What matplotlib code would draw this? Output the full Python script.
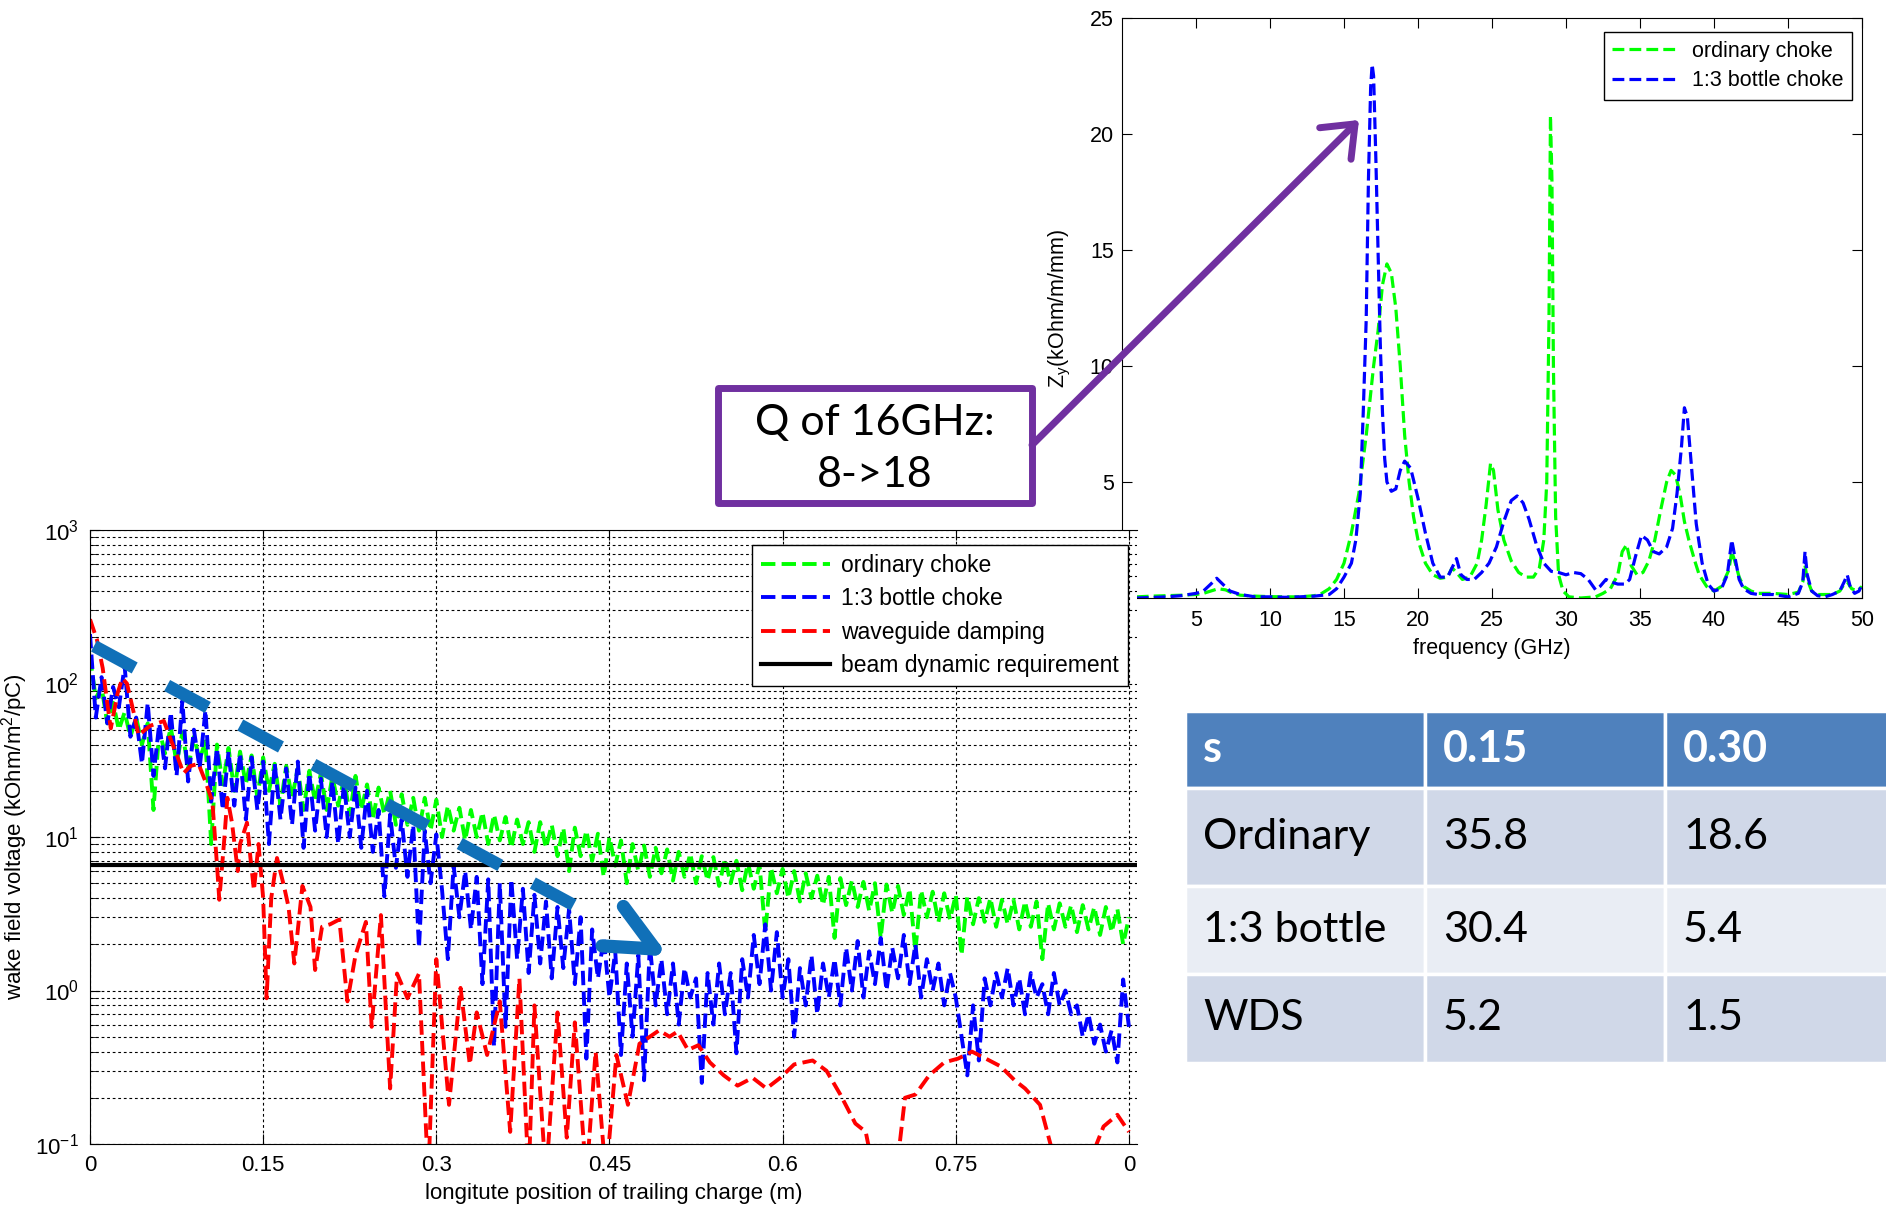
import numpy as np
import matplotlib
matplotlib.use('Agg')
import matplotlib.pyplot as plt
from matplotlib.lines import Line2D
from matplotlib.patches import FancyArrowPatch, Rectangle

plt.rcParams['font.family'] = ['Liberation Sans', 'DejaVu Sans']
plt.rcParams['mathtext.fontset'] = 'custom'
plt.rcParams['mathtext.rm'] = 'Liberation Sans'
plt.rcParams['mathtext.it'] = 'Liberation Sans:italic'
plt.rcParams['mathtext.bf'] = 'Liberation Sans:bold'

W, H = 1886, 1207

# wake field voltage (kOhm/m^2/pC), sampled every 5 mm
pos_step = 0.005
ordinary_wake = [150, 80, 95, 55, 75, 50, 65, 45, 60, 40,
                 55, 15, 50, 35, 52, 30, 48, 28, 45, 32,
                 42, 9, 40, 22, 38, 20, 36, 22, 34, 18,
                 33, 20, 30, 16, 29, 18, 28, 15, 27, 17,
                 26, 15, 25, 16, 24, 14, 25, 15, 22, 13,
                 21, 14, 20, 12, 19, 12, 18, 11, 18, 11,
                 17.5, 10, 16, 11, 15.5, 9.5, 15, 10, 14.5, 9,
                 14, 9.5, 13.5, 8.5, 13, 9, 12.5, 8, 12.5, 8.5,
                 12, 7.5, 11.5, 6, 11.5, 7.5, 11, 7, 10.5, 5.5,
                 10, 6.5, 9.5, 5, 9, 6, 8.8, 5.5, 8.5, 5.8,
                 8.3, 5.2, 8, 5.5, 7.8, 5, 7.5, 5.2, 7.4, 4.8,
                 7.2, 5, 7, 4.5, 6.8, 4.6, 6.6, 2.4, 6.3, 4.3,
                 6.2, 4, 6, 3.8, 5.8, 4, 5.6, 3.6, 5.5, 2.2,
                 5.4, 3.6, 5.2, 3.5, 5.1, 3.3, 5, 2.2, 4.9, 3.2,
                 4.8, 3.1, 4.6, 1.8, 4.5, 3, 4.4, 2.8, 4.3, 2.9,
                 4.2, 1.7, 4.1, 2.7, 4, 2.8, 4, 2.6, 3.9, 2.7,
                 3.9, 2.5, 3.8, 2.6, 3.8, 1.6, 3.7, 2.5, 3.7, 2.6,
                 3.6, 2.4, 3.6, 2.5, 3.5, 2.3, 3.5, 2.4, 3.4, 2.0,
                 3.0]
bottle_wake = [210, 60, 110, 55, 95, 70, 130, 45, 60, 30,
               75, 25, 55, 28, 65, 25, 77, 23, 50, 28,
               67, 17, 38, 15, 36, 16, 35, 13, 33, 15,
               31, 9, 30, 13, 28, 12, 31, 8.5, 26, 11,
               24, 10, 23, 9, 22, 10, 21, 8.5, 20, 8,
               15, 4.1, 14, 6.3, 13, 5.5, 12, 1.9, 11, 5,
               10.4, 4.5, 1.6, 6.5, 3, 6, 2.5, 5.5, 1.1, 5.3,
               0.43, 5.0, 0.58, 5.3, 1.6, 4.6, 1.3, 4.2, 1.5, 3.8,
               1.2, 3.5, 1.4, 3.4, 1.1, 3.0, 0.36, 2.5, 1.2, 2.2,
               0.9, 1.8, 0.38, 1.5, 0.5, 1.7, 0.26, 1.97, 0.8, 1.6,
               0.7, 1.5, 0.6, 1.4, 0.9, 1.2, 0.25, 1.3, 0.6, 1.5,
               0.7, 1.3, 0.39, 1.6, 0.9, 2.3, 1.1, 2.7, 1.0, 2.4,
               0.9, 1.6, 0.5, 1.4, 0.8, 1.7, 0.7, 1.5, 0.9, 1.6,
               0.8, 1.9, 1.0, 2.1, 0.9, 1.8, 1.1, 2.2, 1.0, 1.9,
               1.2, 2.3, 1.1, 2.0, 0.9, 1.6, 1.0, 1.5, 0.8, 1.3,
               0.9, 0.5, 0.28, 0.8, 0.35, 1.2, 0.8, 1.3, 0.9, 1.4,
               0.8, 1.2, 0.7, 1.3, 0.9, 1.1, 0.7, 1.3, 0.8, 1.0,
               0.7, 0.8, 0.5, 0.7, 0.45, 0.6, 0.4, 0.55, 0.34, 1.18,
               0.58]
wg_pos = [0.000, 0.006, 0.011, 0.015, 0.018, 0.024, 0.028, 0.032, 0.038, 0.042,
          0.052, 0.064, 0.070, 0.076, 0.081, 0.087, 0.094, 0.100, 0.106, 0.110,
          0.112, 0.116, 0.119, 0.123, 0.128, 0.130, 0.136, 0.139, 0.142, 0.146,
          0.150, 0.153, 0.157, 0.162, 0.168, 0.172, 0.177, 0.184, 0.191, 0.195,
          0.201, 0.208, 0.216, 0.223, 0.230, 0.239, 0.244, 0.252, 0.260, 0.266,
          0.275, 0.285, 0.293, 0.300, 0.311, 0.321, 0.329, 0.335, 0.344, 0.355,
          0.364, 0.372, 0.380, 0.385, 0.395, 0.405, 0.413, 0.420, 0.430, 0.438,
          0.447, 0.456, 0.466, 0.476, 0.485, 0.493, 0.502, 0.509, 0.518, 0.527,
          0.537, 0.549, 0.561, 0.574, 0.586, 0.598, 0.610, 0.626, 0.638, 0.650,
          0.663, 0.672, 0.680, 0.698, 0.706, 0.715, 0.727, 0.740, 0.752, 0.764,
          0.776, 0.789, 0.801, 0.810, 0.823, 0.832, 0.840, 0.866, 0.872, 0.878,
          0.890, 0.900]
wg_wake = [262, 193, 126, 74, 51, 87, 108, 100, 64, 46,
           53, 57, 43, 33, 26, 29, 30, 23, 17, 6.6,
           3.9, 9, 18, 12.4, 6, 9, 12.4, 7.3, 4.5, 9,
           4, 0.89, 4, 7.3, 4.8, 3.5, 1.5, 4.8, 3.5, 1.36,
           2.6, 2.7, 2.9, 0.85, 1.7, 2.8, 0.58, 3.1, 0.23, 1.29,
           0.89, 1.29, 0.06, 1.6, 0.18, 1.04, 0.33, 0.72, 0.38, 0.85,
           0.12, 1.2, 0.06, 0.8, 0.06, 0.72, 0.11, 0.62, 0.06, 0.4,
           0.06, 0.38, 0.18, 0.45, 0.5, 0.55, 0.5, 0.54, 0.41, 0.44,
           0.34, 0.28, 0.24, 0.27, 0.23, 0.27, 0.33, 0.35, 0.3, 0.21,
           0.136, 0.12, 0.06, 0.06, 0.2, 0.21, 0.28, 0.34, 0.36, 0.4,
           0.36, 0.32, 0.26, 0.23, 0.18, 0.1, 0.06, 0.06, 0.1, 0.13,
           0.155, 0.12]
requirement = 6.6
pos_ticks = [0, 0.15, 0.3, 0.45, 0.6, 0.75, 0.9]
pos_ticklabels = ['0', '0.15', '0.3', '0.45', '0.6', '0.75', '0']

# transverse impedance (kOhm/m/mm) vs frequency (GHz)
ord_freq = [1, 2, 3, 4, 5, 5.5, 6, 6.5, 7, 7.5, 8, 9, 10, 11, 12, 13, 13.5, 14, 14.5, 15,
            15.5, 16, 16.5, 17, 17.3, 17.6, 17.9, 18.2, 18.5, 18.8, 19.1, 19.4, 19.7, 20, 20.5,
            21, 21.5, 22, 22.3, 22.6, 23, 23.5, 24, 24.3, 24.6, 24.9, 25.1, 25.4, 25.8, 26.3,
            26.8, 27.3, 27.8, 28.2, 28.5, 28.7, 28.85, 28.95, 29.05, 29.15, 29.3, 29.5, 29.8,
            30.2, 31, 32, 32.5, 33, 33.5, 33.8, 34.1, 34.4, 34.8, 35.2, 35.6, 36, 36.4, 36.8,
            37.1, 37.4, 37.7, 38, 38.3, 38.7, 39, 39.5, 40, 40.5, 41, 41.2, 41.4, 41.7, 42, 42.5,
            43, 44, 45, 45.7, 46, 46.15, 46.3, 46.6, 47, 48, 48.5, 48.8, 49, 49.3, 49.7, 50]
ord_imp = [0.05, 0.08, 0.1, 0.12, 0.15, 0.2, 0.3, 0.4, 0.35, 0.2, 0.12, 0.08, 0.06, 0.05, 0.05,
           0.1, 0.2, 0.4, 0.8, 1.5, 2.8, 4.5, 7, 10, 11.5, 13.5, 14.4, 14, 12.5, 10, 7, 5, 3.5,
           2.5, 1.5, 1.0, 0.85, 0.9, 1.3, 1.1, 0.8, 0.9, 1.5, 2.5, 4, 5.8, 5.5, 3.8, 2.5, 1.6,
           1.1, 0.9, 0.9, 1.3, 2.5, 5, 12, 20.8, 18, 10, 3.5, 1.0, 0.3, 0.05, 0.0, 0.05, 0.2,
           0.4, 1.0, 2.0, 2.3, 1.4, 1.0, 1.1, 1.6, 2.5, 3.8, 5.0, 5.5, 5.3, 4.5, 3.3, 2.5, 1.6,
           1.0, 0.5, 0.3, 0.5, 1.2, 2.0, 1.6, 0.9, 0.5, 0.3, 0.2, 0.2, 0.15, 0.25, 0.7, 1.4,
           0.8, 0.3, 0.15, 0.15, 0.3, 0.6, 0.7, 0.4, 0.3, 0.5]
bot_freq = [1, 2, 3, 4, 5, 5.5, 6, 6.4, 6.8, 7.3, 8, 9, 10, 11, 12, 13, 14, 14.5, 15, 15.5,
            15.8, 16.1, 16.3, 16.5, 16.65, 16.8, 16.9, 17.0, 17.15, 17.3, 17.45, 17.6, 17.75,
            17.9, 18.2, 18.5, 18.8, 19.1, 19.5, 20, 20.5, 21, 21.5, 22, 22.3, 22.6, 22.9, 23.3,
            23.8, 24.3, 24.8, 25.3, 25.8, 26.3, 26.7, 27.1, 27.5, 28, 28.5, 29, 29.5, 30, 30.5,
            31, 31.5, 32, 32.3, 32.7, 33, 33.5, 34, 34.3, 34.7, 35.1, 35.5, 35.9, 36.3, 36.8,
            37.2, 37.5, 37.8, 38, 38.2, 38.5, 38.8, 39.2, 39.6, 40, 40.5, 40.9, 41.2, 41.4, 41.7,
            42, 42.5, 43, 44, 45, 45.7, 46, 46.15, 46.3, 46.6, 47, 47.5, 48, 48.5, 48.8, 49,
            49.2, 49.5, 49.8, 50]
bot_imp = [0.0, 0.02, 0.05, 0.1, 0.2, 0.3, 0.6, 0.85, 0.6, 0.3, 0.15, 0.05, 0.05, 0.03, 0.05,
           0.08, 0.15, 0.4, 0.9, 1.5, 2.5, 4.5, 8, 12, 18, 22, 23.0, 22.5, 19, 15, 11, 8, 6, 5.0,
           4.6, 4.7, 5.5, 5.9, 5.6, 4.3, 2.8, 1.5, 0.9, 0.9, 1.3, 1.7, 1.0, 0.8, 0.8, 1.1, 1.5,
           2.2, 3.3, 4.2, 4.4, 4.1, 3.4, 2.3, 1.5, 1.15, 1.1, 1.0, 1.1, 1.05, 0.8, 0.35, 0.5,
           0.8, 0.7, 0.6, 0.6, 0.8, 1.8, 2.7, 2.5, 2.0, 1.9, 2.2, 3.0, 4.5, 6.5, 8.2, 7.8, 5.5,
           3.2, 1.5, 0.6, 0.3, 0.4, 1.0, 2.5, 1.8, 0.8, 0.4, 0.2, 0.15, 0.15, 0.05, 0.2, 0.7,
           2.0, 1.0, 0.3, 0.1, 0.05, 0.15, 0.3, 0.7, 1.0, 0.5, 0.2, 0.3, 0.6]

# loss factor table
table_head = ['s', '0.15', '0.30']
table_rows = ['Ordinary', '1:3 bottle', 'WDS']
table_vals = [['35.8', '18.6'], ['30.4', '5.4'], ['5.2', '1.5']]


def box(x0, y0, x1, y1):
    # pixel box (top-left origin) -> figure fraction rect
    return [x0 / W, 1 - y1 / H, (x1 - x0) / W, (y1 - y0) / H]


def pt(x, y):
    return (x / W, 1 - y / H)


fig = plt.figure(figsize=(W / 100, H / 100), dpi=100)

# ---------- impedance spectrum (upper right) ----------
ax2 = fig.add_axes(box(1122, 18, 1862, 598))
ax2.set_zorder(1)
ax2.plot(ord_freq, ord_imp, '--', color='#00ff00', lw=2.3, label='ordinary choke')
ax2.plot(bot_freq, bot_imp, '--', color='#0000ff', lw=2.3, label='1:3 bottle choke')
ax2.set_xlim(0, 50)
ax2.set_ylim(0, 25)
ax2.set_xticks(range(5, 51, 5))
ax2.set_yticks(range(0, 26, 5))
ax2.tick_params(direction='in', top=True, right=True, labelsize=15.5, length=7, pad=9)
ax2.tick_params(axis='y', pad=6)
ax2.set_xlabel('frequency (GHz)', fontsize=15.5, labelpad=5)
ax2.set_ylabel(r'Z$_\mathrm{y}$(kOhm/m/mm)', fontsize=15.5, labelpad=12)
leg2 = ax2.legend(loc='upper right', bbox_to_anchor=(1 - 10 / 740, 1 - 14 / 580),
                  borderaxespad=0, fontsize=15.5, handlelength=2.9, labelspacing=0.4,
                  fancybox=False, framealpha=1, edgecolor='black')
leg2.get_frame().set_linewidth(1)

# ---------- wake field (lower left) ----------
ax = fig.add_axes(box(90, 530, 1137, 1144))
ax.set_zorder(2)
ord_pos = np.round(np.arange(len(ordinary_wake)) * pos_step, 3)
bot_pos = np.round(np.arange(len(bottle_wake)) * pos_step, 3)
ax.plot(ord_pos, ordinary_wake, '--', color='#00ff00', lw=2.8, label='ordinary choke')
ax.plot(bot_pos, bottle_wake, '--', color='#0000ff', lw=2.8, label='1:3 bottle choke')
ax.plot(wg_pos, wg_wake, '--', color='#ff0000', lw=2.8, label='waveguide damping')
ax.axhline(requirement, color='black', lw=3, label='beam dynamic requirement')
ax.set_yscale('log')
ax.set_xlim(0, 0.907)
ax.set_ylim(0.1, 1000)
ax.set_xticks(pos_ticks)
ax.set_xticklabels(pos_ticklabels)
ax.set_axisbelow(True)
ax.grid(True, which='both', axis='y', color='black', lw=0.8, linestyle=(0, (2.5, 2.5)))
ax.grid(True, which='major', axis='x', color='black', lw=0.8, linestyle=(0, (2.5, 2.5)))
ax.tick_params(which='both', direction='in', top=True, labelsize=16, pad=8)
ax.tick_params(which='major', length=7)
ax.tick_params(which='minor', length=4)
ax.spines['right'].set_visible(False)
ax.set_xlabel('longitute position of trailing charge (m)', fontsize=16, labelpad=5)
ax.set_ylabel('wake field voltage (kOhm/m$^2$/pC)', fontsize=16, labelpad=4)
leg = ax.legend(loc='upper right', bbox_to_anchor=(1 - 9 / 1047, 1 - 15 / 614),
                borderaxespad=0, fontsize=16.5, handlelength=3.0, labelspacing=0.45,
                handletextpad=0.5, borderpad=0.4, fancybox=False, framealpha=1,
                edgecolor='black')
leg.get_frame().set_linewidth(1)

# ---------- table (lower right) ----------
ax3 = fig.add_axes(box(1185, 711, 1905, 1063))
ax3.axis('off')
cells = [table_head] + [[r] + v for r, v in zip(table_rows, table_vals)]
tbl = ax3.table(cellText=cells, bbox=[0, 0, 1, 1], cellLoc='left')
tbl.auto_set_font_size(False)
row_h = [77, 98, 88, 89]
fills = ['#4f81bd', '#d0d8e8', '#e9edf4', '#d0d8e8']
for (r, c), cell in tbl.get_celld().items():
    cell.set_height(row_h[r])
    cell.set_width(1)
    cell.set_facecolor(fills[r])
    cell.set_edgecolor('white')
    cell.set_linewidth(2.5)
    cell.PAD = 0.075
    t = cell.get_text()
    t.set_fontfamily(['Lato', 'DejaVu Sans'])
    t.set_fontsize(31)
    if r == 0:
        t.set_color('white')
        t.set_fontweight('bold')

# ---------- annotations ----------
purple = '#7030a0'
fig.add_artist(Rectangle(pt(718, 503), (1032 - 718) / W, (503 - 388) / H,
                         transform=fig.transFigure, facecolor='white', edgecolor=purple,
                         lw=5, joinstyle='round', zorder=10))
fig.text((718 + 1032) / 2 / W, 1 - 449 / H, 'Q of 16GHz:\n8->18', ha='center', va='center',
         fontsize=31, family=['Lato', 'DejaVu Sans'], linespacing=1.45, zorder=11)
fig.add_artist(FancyArrowPatch(pt(1032, 445), pt(1359, 120), transform=fig.transFigure,
                               arrowstyle='->,head_length=0.5,head_width=0.4',
                               mutation_scale=40, lw=5, color=purple, capstyle='round',
                               shrinkA=0, shrinkB=0, zorder=10))

# dashed blue trend arrow over the wake plot
teal = '#1070b8'
x0, y0 = 94, 646
tip = np.array([655.0, 949.0])
d = tip - np.array([x0, y0])
d = d / np.hypot(*d)
shaft_end = tip - d * 80
fig.add_artist(Line2D([x0 / W, shaft_end[0] / W], [1 - y0 / H, 1 - shaft_end[1] / H],
                      transform=fig.transFigure, color=teal, lw=9,
                      linestyle=(0, (3.7, 2.95)), dash_capstyle='butt', zorder=12))
ang = np.arctan2(d[1], d[0])
for s in (+1, -1):
    a = ang + np.pi + s * np.radians(25)
    end = tip + 53 * np.array([np.cos(a), np.sin(a)])
    fig.add_artist(Line2D([tip[0] / W, end[0] / W], [1 - tip[1] / H, 1 - end[1] / H],
                          transform=fig.transFigure, color=teal, lw=9.5,
                          solid_capstyle='round', zorder=12))

fig.savefig('out.png', dpi=100)
